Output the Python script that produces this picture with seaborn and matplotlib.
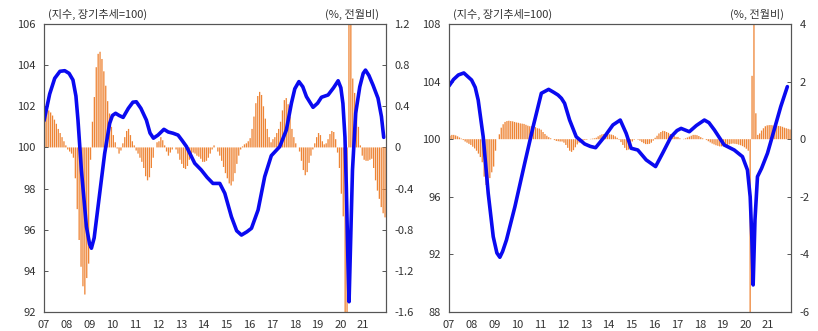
import numpy as np
import pandas as pd
import matplotlib
matplotlib.use("Agg")
import matplotlib.pyplot as plt
import seaborn as sns

sns.set_style("white")
plt.rcParams['font.family'] = ['Noto Sans CJK KR', 'DejaVu Sans']

# ---------------- data ----------------
years = list(range(2007, 2022))
tick_labels = ['07', '08', '09', '10', '11', '12', '13', '14', '15', '16', '17', '18', '19', '20', '21']

# Left panel: monthly % change (right axis), Jan 2007 .. Dec 2021
left_bars = [
    0.30, 0.35, 0.36, 0.34, 0.31, 0.27, 0.23, 0.18, 0.14, 0.10, 0.06, 0.02,      # 2007
    -0.02, -0.04, -0.06, -0.10, -0.30, -0.60, -0.90, -1.16, -1.35, -1.43, -1.27, -1.13,  # 2008
    -0.12, 0.25, 0.49, 0.78, 0.91, 0.93, 0.86, 0.74, 0.60, 0.45, 0.33, 0.20,     # 2009
    0.12, 0.05, -0.01, -0.06, -0.03, 0.04, 0.10, 0.16, 0.18, 0.12, 0.06, 0.02,   # 2010
    -0.03, -0.06, -0.10, -0.14, -0.20, -0.28, -0.32, -0.29, -0.20, -0.10, 0.00, 0.05,  # 2011
    0.06, 0.10, 0.07, 0.02, -0.04, -0.08, -0.05, -0.02, 0.00, -0.02, -0.06, -0.12,  # 2012
    -0.16, -0.20, -0.21, -0.18, -0.12, -0.07, -0.05, -0.06, -0.08, -0.09, -0.11, -0.14,  # 2013
    -0.14, -0.13, -0.10, -0.06, -0.02, 0.02, 0.00, -0.04, -0.08, -0.13, -0.19, -0.25,  # 2014
    -0.30, -0.35, -0.37, -0.33, -0.25, -0.16, -0.08, -0.02, 0.01, 0.03, 0.04, 0.06,  # 2015
    0.09, 0.18, 0.30, 0.43, 0.50, 0.54, 0.51, 0.40, 0.28, 0.18, 0.10, 0.05,      # 2016
    0.08, 0.10, 0.14, 0.18, 0.25, 0.36, 0.46, 0.48, 0.42, 0.30, 0.18, 0.10,      # 2017
    0.04, 0.00, -0.04, -0.13, -0.22, -0.27, -0.24, -0.15, -0.08, -0.02, 0.04, 0.10,  # 2018
    0.14, 0.12, 0.06, 0.03, 0.04, 0.08, 0.13, 0.16, 0.15, 0.08, -0.05, -0.20,    # 2019
    -0.45, -0.67, -1.90, -1.90, 1.60, 1.60, 0.67, 0.53, 0.38, 0.20, 0.02, -0.08,  # 2020
    -0.12, -0.13, -0.13, -0.12, -0.11, -0.20, -0.32, -0.42, -0.50, -0.58, -0.64, -0.68,  # 2021
]

# Right panel: monthly % change (right axis)
right_bars = [
    0.12, 0.15, 0.15, 0.13, 0.10, 0.06, 0.02, -0.03, -0.08, -0.12, -0.16, -0.20,  # 2007
    -0.26, -0.32, -0.40, -0.50, -0.62, -0.80, -1.30, -1.59, -1.55, -1.35, -1.15, -0.95,  # 2008
    -0.40, 0.00, 0.17, 0.40, 0.52, 0.60, 0.63, 0.64, 0.63, 0.62, 0.60, 0.58,     # 2009
    0.57, 0.55, 0.54, 0.53, 0.50, 0.47, 0.45, 0.45, 0.44, 0.42, 0.38, 0.37,      # 2010
    0.33, 0.25, 0.18, 0.12, 0.07, 0.03, 0.00, -0.03, -0.06, -0.07, -0.08, -0.08,  # 2011
    -0.12, -0.20, -0.30, -0.40, -0.44, -0.38, -0.28, -0.18, -0.12, -0.08, -0.05, -0.03,  # 2012
    -0.02, 0.00, 0.01, 0.02, 0.03, 0.05, 0.10, 0.14, 0.17, 0.18, 0.18, 0.18,     # 2013
    0.17, 0.16, 0.14, 0.10, 0.05, -0.02, -0.10, -0.20, -0.30, -0.38, -0.36, -0.20,  # 2014
    -0.08, -0.02, 0.00, -0.02, -0.05, -0.10, -0.14, -0.17, -0.17, -0.16, -0.12, -0.05,  # 2015
    0.05, 0.12, 0.20, 0.25, 0.29, 0.28, 0.25, 0.22, 0.18, 0.15, 0.12, 0.08,      # 2016
    0.08, 0.03, 0.00, 0.01, 0.03, 0.06, 0.09, 0.12, 0.15, 0.15, 0.14, 0.11,      # 2017
    0.07, 0.03, 0.00, -0.03, -0.07, -0.11, -0.15, -0.18, -0.21, -0.23, -0.25, -0.25,  # 2018
    -0.24, -0.22, -0.20, -0.18, -0.16, -0.15, -0.16, -0.17, -0.19, -0.21, -0.24, -0.28,  # 2019
    -0.33, -0.40, -7.00, 2.20, 5.00, 0.90, 0.15, 0.20, 0.30, 0.38, 0.45, 0.48,   # 2020
    0.49, 0.49, 0.48, 0.47, 0.47, 0.46, 0.45, 0.43, 0.40, 0.38, 0.36, 0.34,      # 2021
]

# Left panel index line (left axis): dates (decimal year) and values
left_line_t = [2007.0, 2007.25, 2007.47, 2007.7, 2007.91, 2008.1, 2008.27, 2008.4, 2008.49, 2008.64,
               2008.86, 2009.0, 2009.08, 2009.2, 2009.37, 2009.66, 2009.88, 2010.0, 2010.14, 2010.3,
               2010.47, 2010.7, 2010.9, 2011.05, 2011.25, 2011.49, 2011.65, 2011.8, 2012.0, 2012.26,
               2012.45, 2012.66, 2012.88, 2013.05, 2013.25, 2013.61, 2013.9, 2014.15, 2014.41, 2014.71,
               2014.93, 2015.22, 2015.45, 2015.66, 2015.9, 2016.1, 2016.39, 2016.68, 2016.97, 2017.34,
               2017.63, 2017.85, 2018.0, 2018.18, 2018.35, 2018.51, 2018.8, 2019.0, 2019.17, 2019.46,
               2019.7, 2019.9, 2020.02, 2020.11, 2020.2, 2020.26, 2020.33, 2020.38, 2020.45, 2020.53,
               2020.67, 2020.85, 2021.0, 2021.1, 2021.25, 2021.43, 2021.65, 2021.8, 2021.9]
left_line_v = [101.3, 102.6, 103.36, 103.7, 103.73, 103.6, 103.28, 102.5, 101.33, 98.9,
               96.15, 95.3, 95.1, 95.6, 97.12, 99.7, 101.17, 101.55, 101.66, 101.55,
               101.46, 101.9, 102.2, 102.22, 101.9, 101.33, 100.7, 100.45, 100.6, 100.88,
               100.75, 100.69, 100.6, 100.35, 100.04, 99.23, 98.9, 98.55, 98.25, 98.25,
               97.77, 96.63, 95.95, 95.74, 95.9, 96.07, 96.96, 98.58, 99.6, 100.04,
               100.85, 102.14, 102.85, 103.2, 102.95, 102.47, 101.95, 102.15, 102.44, 102.55,
               102.9, 103.24, 102.9, 102.14, 100.5, 98.09, 94.5, 92.5, 95.5, 98.9,
               101.66, 102.95, 103.6, 103.76, 103.5, 103.03, 102.39, 101.5, 100.49]

# Right panel index line
right_line_t = [2007.0, 2007.2, 2007.41, 2007.65, 2007.99, 2008.15, 2008.28, 2008.5, 2008.72, 2008.94,
                2009.1, 2009.23, 2009.35, 2009.52, 2009.89, 2010.32, 2010.69, 2011.05, 2011.37, 2011.6,
                2011.78, 2011.93, 2012.07, 2012.29, 2012.58, 2012.95, 2013.2, 2013.43, 2013.82, 2014.19,
                2014.51, 2014.77, 2014.99, 2015.28, 2015.65, 2016.06, 2016.37, 2016.74, 2017.0, 2017.18,
                2017.54, 2017.85, 2018.2, 2018.4, 2018.64, 2019.07, 2019.51, 2019.87, 2020.09, 2020.21,
                2020.28, 2020.34, 2020.42, 2020.53, 2020.71, 2020.97, 2021.26, 2021.55, 2021.84]
right_line_v = [103.7, 104.15, 104.46, 104.6, 104.11, 103.6, 102.72, 100.17, 96.24, 93.23,
                92.1, 91.8, 92.2, 93.0, 95.31, 98.33, 100.87, 103.19, 103.46, 103.25,
                103.07, 102.84, 102.49, 101.33, 100.17, 99.67, 99.5, 99.41, 100.17, 100.99,
                101.33, 100.41, 99.37, 99.25, 98.56, 98.1, 99.03, 100.17, 100.6, 100.75,
                100.52, 100.95, 101.33, 101.15, 100.64, 99.6, 99.25, 98.79, 97.86, 96.0,
                93.23, 89.88, 94.39, 97.4, 97.98, 99.03, 100.64, 102.26, 103.65]

months_t = [y + (m + 0.5) / 12 for y in years for m in range(12)]

BAR_COLOR = '#EE8536'
LINE_COLOR = '#0A0AF0'
SPINE = '#555555'

fig = plt.figure(figsize=(8.18, 3.31), dpi=100)

panels = [
    dict(rect=[44/818, 1-312/331, 342/818, 288/331], bars=left_bars,
         lt=left_line_t, lv=left_line_v, ylim=(92, 106), yticks=[92, 94, 96, 98, 100, 102, 104, 106],
         rlim=(-1.6, 1.2), rticks=[-1.6, -1.2, -0.8, -0.4, 0, 0.4, 0.8, 1.2],
         rlabels=['-1.6', '-1.2', '-0.8', '-0.4', '0', '0.4', '0.8', '1.2']),
    dict(rect=[449/818, 1-312/331, 342/818, 288/331], bars=right_bars,
         lt=right_line_t, lv=right_line_v, ylim=(88, 108), yticks=[88, 92, 96, 100, 104, 108],
         rlim=(-6, 4), rticks=[-6, -4, -2, 0, 2, 4],
         rlabels=['-6', '-4', '-2', '0', '2', '4']),
]

for p in panels:
    ax = fig.add_axes(p['rect'])
    axr = ax.twinx()
    bar_df = pd.DataFrame({'t': months_t, 'v': p['bars']})
    sns.barplot(data=bar_df, x='t', y='v', native_scale=True, color=BAR_COLOR,
                errorbar=None, linewidth=0, width=0.68, ax=axr, saturation=1)
    for patch in axr.patches:
        patch.set_snap(False)
    line_df = pd.DataFrame({'t': p['lt'], 'v': p['lv']})
    sns.lineplot(data=line_df, x='t', y='v', color=LINE_COLOR, linewidth=2.6,
                 sort=False, ax=ax)
    ax.set_zorder(axr.get_zorder() + 1)
    ax.patch.set_visible(False)

    ax.set_xlim(2007, 2022)
    axr.set_xlim(2007, 2022)
    ax.set_ylim(*p['ylim'])
    axr.set_ylim(*p['rlim'])
    ax.set_xticks(years)
    ax.set_xticklabels(tick_labels)
    ax.set_yticks(p['yticks'])
    ax.set_yticklabels([str(v) for v in p['yticks']])
    axr.set_yticks(p['rticks'])
    axr.set_yticklabels(p['rlabels'])
    for a in (ax, axr):
        a.set_xlabel('')
        a.set_ylabel('')
        for s in a.spines.values():
            s.set_color(SPINE)
            s.set_linewidth(0.8)
    ax.tick_params(axis='both', direction='in', length=3, width=0.7, color=SPINE,
                   labelsize=8, labelcolor='#333333', pad=6)
    axr.tick_params(axis='y', direction='in', length=3, width=0.7, color=SPINE,
                    labelsize=8, labelcolor='#333333', pad=6)
    axr.tick_params(axis='x', bottom=False, labelbottom=False)

    ax.annotate('(지수, 장기추세=100)', xy=(0, 1), xycoords='axes fraction',
                xytext=(3, 3), textcoords='offset points', ha='left', va='bottom',
                fontsize=8, color='#333333')
    ax.annotate('(%, 전월비)', xy=(1, 1), xycoords='axes fraction',
                xytext=(-5, 3), textcoords='offset points', ha='right', va='bottom',
                fontsize=8, color='#333333')

fig.savefig('out.png', dpi=100)
